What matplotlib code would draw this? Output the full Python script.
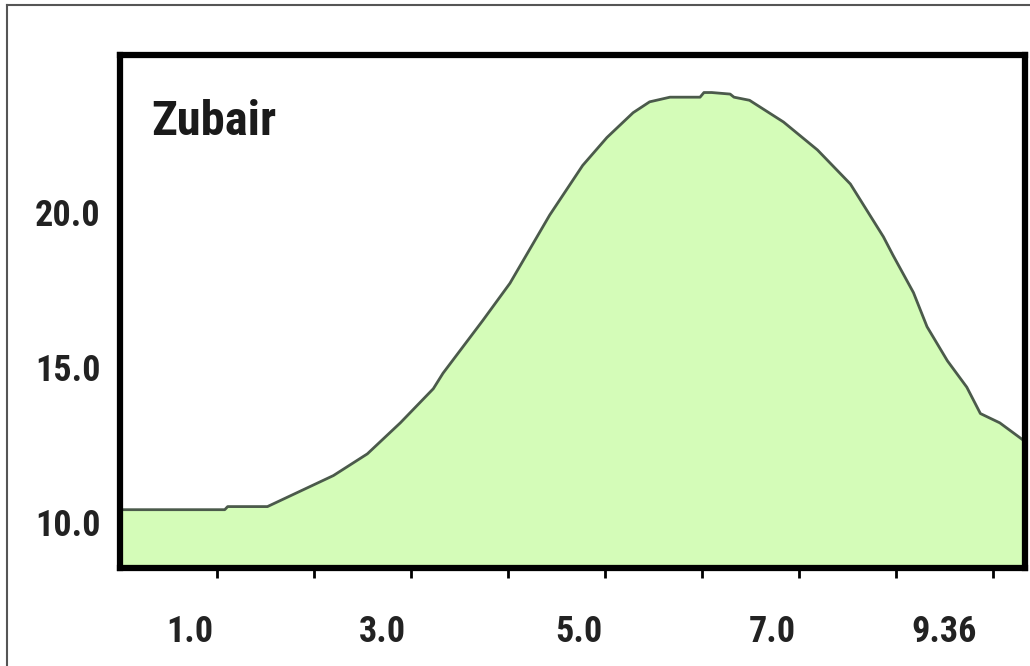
import matplotlib
matplotlib.use("Agg")
import matplotlib.pyplot as plt
from matplotlib.lines import Line2D

# profile (x in axis units, 0 .. 9.33)
dist = [0.0, 1.08, 1.11, 1.52, 1.86, 2.20, 2.55, 2.89, 3.23, 3.33, 3.74, 4.02,
        4.43, 4.77, 5.02, 5.29, 5.46, 5.67, 5.98, 6.02, 6.10, 6.29, 6.33, 6.49,
        6.84, 7.19, 7.53, 7.87, 7.97, 8.18, 8.32, 8.53, 8.73, 8.87, 9.07, 9.33]
value = [10.4, 10.4, 10.5, 10.5, 11.0, 11.5, 12.2, 13.2, 14.3, 14.8, 16.5, 17.7,
         19.9, 21.5, 22.4, 23.2, 23.55, 23.7, 23.7, 23.85, 23.85, 23.8, 23.7, 23.6,
         22.9, 22.0, 20.9, 19.2, 18.6, 17.4, 16.3, 15.2, 14.35, 13.5, 13.2, 12.6]

y_ticks = [10.0, 15.0, 20.0]
y_labels = ["10.0", "15.0", "20.0"]
x_marks = [1, 2, 3, 4, 5, 6, 7, 8, 9]
x_label_pos = [0.72, 2.71, 4.73, 6.72, 8.5]
x_labels = ["1.0", "3.0", "5.0", "7.0", "9.36"]
title = "Zubair"

fonts = ["DejaVu Sans Condensed", "Roboto Condensed", "Liberation Sans Narrow", "DejaVu Sans"]

fig = plt.figure(figsize=(10.3, 6.66), dpi=100)
ax = fig.add_axes([120 / 1030, 1 - 568 / 666, (1025 - 120) / 1030, (568 - 55) / 666])

ax.fill_between(dist, value, 8.0, color="#d4fcb8", linewidth=0)
ax.plot(dist, value, color="#4b5a4b", linewidth=2)

ax.set_xlim(0, 9.33)
ax.set_ylim(8.52, 25.06)

for s in ax.spines.values():
    s.set_linewidth(4.5)
    s.set_color("black")

# y axis: labels only
ax.set_yticks(y_ticks)
ax.set_yticklabels(y_labels, fontfamily=fonts, fontweight="bold", fontsize=26, color="#222222")
ax.tick_params(axis="y", length=0, pad=14)

# x axis: unlabelled marks, labels sit between them
ax.set_xticks(x_marks)
ax.set_xticklabels([])
ax.tick_params(axis="x", which="major", direction="out", length=7, width=2)
ax.set_xticks(x_label_pos, minor=True)
ax.set_xticklabels(x_labels, minor=True, fontfamily=fonts, fontweight="bold",
                   fontsize=26, color="#222222")
ax.tick_params(axis="x", which="minor", length=0, pad=33)

ax.text(0.035, 0.87, title, transform=ax.transAxes, fontfamily=fonts,
        fontweight="bold", fontsize=35, color="#1a1a1a", va="center", ha="left")

# thin frame round the picture (cut at right and bottom)
fig.add_artist(Line2D([7 / 1030, 7 / 1030], [0, 1 - 5 / 666], color="#555555", linewidth=1.5))
fig.add_artist(Line2D([7 / 1030, 1], [1 - 5 / 666, 1 - 5 / 666], color="#555555", linewidth=1.5))

fig.savefig("out.png", dpi=100)
